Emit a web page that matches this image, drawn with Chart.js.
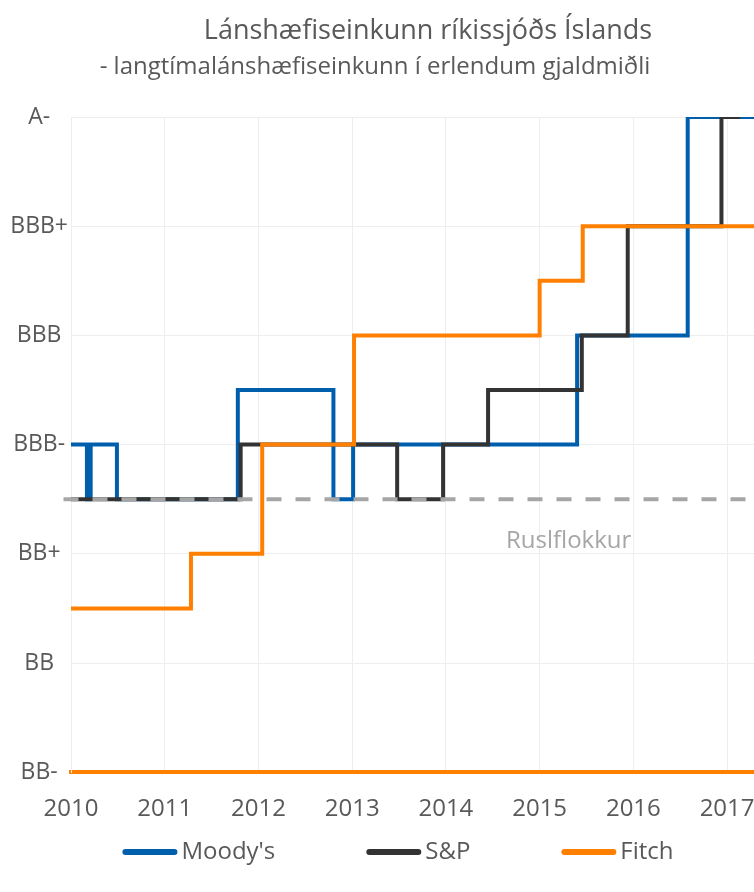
<!DOCTYPE html>
<html>
<head>
<meta charset="utf-8">
<script src="https://cdn.jsdelivr.net/npm/chart.js@4"></script>
<style>
  html, body { margin: 0; padding: 0; background: #fff; overflow: hidden; }
  #wrap { width: 790px; height: 892px; }
</style>
</head>
<body>
<div id="wrap"><canvas id="lineChart" width="790" height="892"></canvas></div>
<script>
const titleText = "Lánshæfiseinkunn ríkissjóðs Íslands";
const subtitleText = "- langtímalánshæfiseinkunn í erlendum gjaldmiðli";
const junkText = "Ruslflokkur";

const ratingLabels = ["BB-", "BB", "BB+", "BBB-", "BBB", "BBB+", "A-"];
const seriesNames = ["Moody's", "S&P", "Fitch"];

// dates as decimal years, rating = index in ratingLabels (x.5 = between two grades)
const moodysDates  = [2010.0, 2010.17, 2010.21, 2010.49, 2011.78, 2012.80, 2013.01, 2015.40, 2016.58, 2017.65];
const moodysValues = [3, 2.5, 3, 2.5, 3.5, 2.5, 3, 4, 6, 6];

const spDates  = [2010.0, 2011.81, 2013.48, 2013.97, 2014.45, 2015.45, 2015.94, 2016.94, 2017.14];
const spValues = [2.5, 3, 2.5, 3, 3.5, 4, 5, 6, 6];

const fitchDates  = [2010.0, 2011.28, 2012.04, 2013.02, 2015.00, 2015.46, 2017.65];
const fitchValues = [1.5, 2, 3, 4, 4.5, 5, 5];

const junkDates  = [2009.92, 2017.65];
const junkValues = [2.5, 2.5];

const textColor = "#595959";
const font = "'Open Sans', sans-serif";

function toPoints(xs, ys) {
  return xs.map((x, i) => ({ x: x, y: ys[i] }));
}

const titlePlugin = {
  id: "titles",
  afterDraw(chart) {
    const ctx = chart.ctx;
    ctx.save();
    ctx.fillStyle = textColor;
    ctx.textAlign = "center";
    ctx.textBaseline = "middle";
    ctx.font = "27px " + font;
    ctx.fillText(titleText, 428, 31);
    ctx.font = "24px " + font;
    ctx.fillText(subtitleText, 375, 67);
    ctx.restore();
  }
};

const junkLabelPlugin = {
  id: "junkLabel",
  afterDatasetsDraw(chart) {
    const { ctx, scales } = chart;
    ctx.save();
    ctx.font = "24px " + font;
    ctx.fillStyle = "#A6A6A6";
    ctx.textAlign = "center";
    ctx.textBaseline = "middle";
    ctx.fillText(junkText, scales.x.getPixelForValue(2015.31), scales.y.getPixelForValue(2.12));
    ctx.restore();
  }
};

const legendPlugin = {
  id: "bottomLegend",
  afterDraw(chart) {
    const ctx = chart.ctx;
    const items = chart.data.datasets.filter(d => seriesNames.includes(d.label));
    ctx.save();
    ctx.font = "24px " + font;
    const lineW = 55, textGap = 4, itemGap = 91;
    const widths = items.map(d => lineW + textGap + ctx.measureText(d.label).width);
    const total = widths.reduce((a, b) => a + b, 0) + itemGap * (items.length - 1);
    let x = 398 - total / 2;
    const y = 852;
    items.forEach((d, i) => {
      ctx.strokeStyle = d.borderColor;
      ctx.lineWidth = 6;
      ctx.lineCap = "round";
      ctx.beginPath();
      ctx.moveTo(x + 3, y);
      ctx.lineTo(x + lineW - 3, y);
      ctx.stroke();
      ctx.fillStyle = textColor;
      ctx.textAlign = "left";
      ctx.textBaseline = "middle";
      ctx.fillText(d.label, x + lineW + textGap, y);
      x += widths[i] + itemGap;
    });
    ctx.restore();
  }
};

const ctxL = document.getElementById("lineChart").getContext("2d");

const myLineChart = new Chart(ctxL, {
  type: "line",
  data: {
    datasets: [
      {
        label: seriesNames[0],
        data: toPoints(moodysDates, moodysValues),
        borderColor: "#005FAD",
        backgroundColor: "#005FAD",
        borderWidth: 4,
        stepped: true,
        pointRadius: 0,
        order: 3,
      },
      {
        label: seriesNames[1],
        data: toPoints(spDates, spValues),
        borderColor: "#333333",
        backgroundColor: "#333333",
        borderWidth: 4,
        stepped: true,
        pointRadius: 0,
        order: 2,
      },
      {
        label: seriesNames[2],
        data: toPoints(fitchDates, fitchValues),
        borderColor: "#FF7F00",
        backgroundColor: "#FF7F00",
        borderWidth: 4,
        stepped: true,
        pointRadius: 0,
        order: 1,
      },
      {
        label: junkText,
        data: toPoints(junkDates, junkValues),
        borderColor: "#A6A6A6",
        borderWidth: 4,
        borderDash: [15, 14],
        pointRadius: 0,
        order: 0,
        clip: { left: 10, top: 0, right: 0, bottom: 0 },
      },
    ],
  },
  options: {
    responsive: false,
    animation: false,
    layout: { padding: { top: 117, right: 2, bottom: 45, left: 0 } },
    plugins: {
      legend: { display: false },
      tooltip: { enabled: false },
    },
    scales: {
      x: {
        type: "linear",
        min: 2010,
        max: 2017.65,
        border: { color: "#FF7F00", width: 4 },
        grid: { color: "#EEEEEE", drawTicks: false },
        ticks: {
          stepSize: 1,
          includeBounds: false,
          padding: 23,
          color: textColor,
          font: { family: font, size: 24 },
          callback: v => String(v),
        },
      },
      y: {
        min: 0,
        max: 6,
        border: { color: "#EEEEEE" },
        grid: { color: "#EEEEEE", drawTicks: false },
        ticks: {
          stepSize: 1,
          crossAlign: "center",
          padding: 3,
          color: textColor,
          font: { family: font, size: 23 },
          callback: v => ratingLabels[v],
        },
        afterFit: s => { s.width = 71; },
      },
    },
  },
  plugins: [titlePlugin, junkLabelPlugin, legendPlugin],
});
</script>
</body>
</html>
